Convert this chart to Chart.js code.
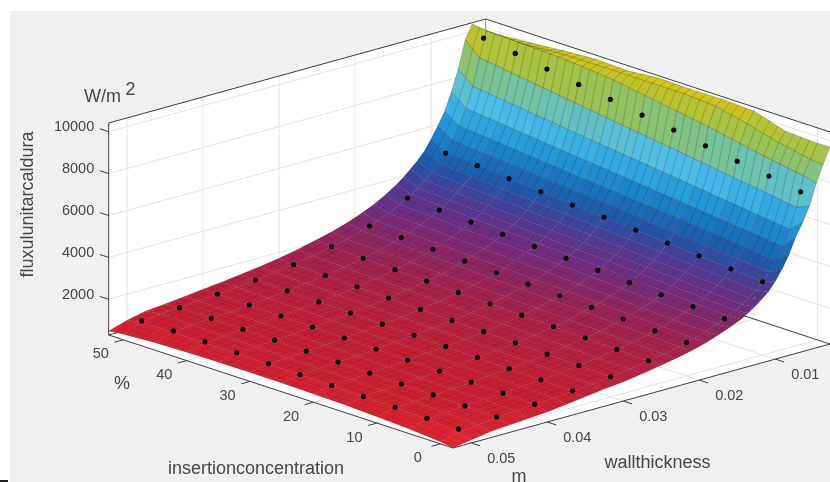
<!DOCTYPE html>
<html>
<head>
<meta charset="utf-8">
<title>fluxul unitar caldura</title>
<script src="https://cdn.jsdelivr.net/npm/chart.js@4"></script>
<style>
html,body{margin:0;padding:0;background:#fff;overflow:hidden}
#panel{position:absolute;left:10px;top:11px;width:820px;height:471px;background:#f0f0f0}
#dash{position:absolute;left:0;top:480px;width:8px;height:2px;background:#222}
#plot{position:absolute;left:0;top:0}
</style>
</head>
<body>
<div id="panel"></div>
<div id="dash"></div>
<canvas id="plot" width="830" height="482"></canvas>
<script>
// measured points (black dots): one row per wall thickness, one value per concentration
const wallThickness = [0.005,0.01,0.015,0.02,0.025,0.03,0.035,0.04,0.045,0.05];
const concentration = [0,5,10,15,20,25,30,35,40,45,50];
const measuredFlux = [
  [7581,7834,8053,8287,8540,8759,9012,9231,9465,9718,9951],
  [3790,3910,4030,4150,4270,4385,4471,4620,4740,4860,4967],
  [2527,2607,2687,2767,2847,2923,3000,3080,3160,3240,3321],
  [1895,1955,2015,2075,2135,2193,2250,2310,2370,2430,2486],
  [1516,1564,1612,1660,1708,1754,1800,1848,1896,1944,2000],
  [1263,1303,1343,1383,1423,1462,1500,1540,1580,1620,1640],
  [1083,1117,1151,1186,1220,1253,1286,1320,1354,1389,1408],
  [948,978,1008,1038,1068,1096,1125,1155,1185,1215,1241],
  [842,869,896,922,949,974,1000,1027,1053,1080,1089],
  [758,782,806,830,854,877,900,924,948,972,955]
];

// fitted surface at these mesh lines
const surfaceThickness = [0.0028,0.0037,0.0046,0.0055,0.0064,0.0073,0.0082,0.0091,0.01,0.0109,0.0118,0.0127,0.0136,0.0145,0.016,0.0175,0.019,0.021,0.023,0.025,0.0275,0.03,0.0325,0.035,0.0375,0.04,0.0425,0.045,0.0475,0.05,0.0524];
const surfaceConc = [-2,0,5,10,15,20,25,30,35,40,45,50,52.3];
const surfaceFlux = [
  [9694,9685,9760,10220,10295,10270,10305,10170,10220,10123,9980,9875,9885],
  [8950,9000,9300,9700,10050,10150,10150,10150,10150,10130,10000,9950,10000],
  [8150,8300,8550,8850,9150,9400,9650,9900,10050,10150,10200,10250,10350],
  [7150,6890,7109,7327,7545,7764,7973,8182,8400,8618,8836,9055,9700],
  [6450,5922,6109,6297,6484,6672,6852,7031,7219,7406,7594,7781,8400],
  [5850,5192,5356,5521,5685,5850,6007,6165,6329,6494,6658,6822,7400],
  [5100,4622,4768,4915,5061,5207,5348,5488,5634,5780,5927,6073,6550],
  [4500,4165,4297,4429,4560,4692,4819,4945,5077,5209,5341,5473,5950],
  [4000,3790,3910,4030,4150,4270,4385,4500,4620,4740,4860,4967,5400],
  [3600,3477,3587,3697,3807,3917,4023,4128,4238,4349,4459,4569,4900],
  [3320,3212,3314,3415,3517,3619,3716,3814,3915,4017,4119,4220,4550],
  [3070,2984,3079,3173,3268,3362,3453,3543,3638,3732,3827,3921,4250],
  [2850,2787,2875,2963,3051,3140,3224,3309,3397,3485,3574,3662,3950],
  [2650,2614,2697,2779,2862,2945,3024,3103,3186,3269,3352,3434,3700],
  [2400,2369,2444,2519,2594,2669,2741,2813,2888,2963,3038,3113,3350],
  [2200,2166,2234,2303,2371,2440,2506,2571,2640,2709,2777,2846,3050],
  [2000,1995,2058,2121,2184,2247,2308,2368,2432,2495,2558,2621,2800],
  [1800,1805,1862,1919,1976,2033,2088,2143,2200,2257,2314,2371,2520],
  [1640,1648,1700,1752,1804,1857,1907,1957,2009,2061,2113,2165,2290],
  [1500,1516,1564,1612,1660,1708,1754,1800,1848,1896,1944,1992,2110],
  [1350,1378,1422,1465,1509,1553,1595,1636,1680,1724,1767,1811,1900],
  [1210,1263,1303,1343,1383,1423,1462,1500,1540,1580,1620,1660,1720],
  [1120,1166,1203,1240,1277,1314,1349,1385,1422,1458,1495,1532,1570],
  [1000,1083,1117,1151,1186,1220,1253,1286,1320,1354,1389,1423,1450],
  [880,1011,1043,1075,1107,1139,1169,1200,1232,1264,1296,1328,1340],
  [780,948,978,1008,1038,1068,1096,1125,1155,1185,1215,1245,1240],
  [720,890,920,948,976,1005,1032,1059,1087,1115,1144,1172,1130],
  [650,810,860,895,922,949,974,1000,1027,1053,1080,1107,1040],
  [580,720,800,850,874,899,923,947,973,998,1023,1048,950],
  [440,620,740,800,825,850,870,880,890,900,910,900,760],
  [300,400,520,600,660,690,720,720,710,690,650,560,490]
];

// axis ticks
const thicknessTicks = [0.01,0.02,0.03,0.04,0.05];
const concTicks = [0,10,20,30,40,50];
const fluxTicks = [2000,4000,6000,8000,10000];

// colormap, flux -> rgb
const colorFlux = [300,1000,2000,3000,3800,4500,5300,6200,7200,8000,9000,10000,10400];
const colorRgb = [[232,38,42],[200,32,52],[155,36,84],[108,46,128],[72,62,152],[30,88,168],[25,118,192],[40,160,220],[80,190,235],[110,195,175],[150,195,90],[195,195,35],[220,200,20]];

// axes limits and the fixed view of the 3d box
const tMin=0.0028, tMax=0.0524, cMin=-2, cMax=52.3, zMin=297, zMax=10415;
const frontX=453, frontY=448;
const concRun=[-344.3,-113], thickRun=[377,-104], zRise=212;

function project(t,c,z){
  const u=(c-cMin)/(cMax-cMin), v=(tMax-t)/(tMax-tMin), w=(z-zMin)/(zMax-zMin);
  return {x:frontX+u*concRun[0]+v*thickRun[0], y:frontY+u*concRun[1]+v*thickRun[1]-w*zRise};
}

function fluxColor(z){
  let i=0;
  while(i<colorFlux.length-2 && z>colorFlux[i+1]) i++;
  const f=Math.min(1,Math.max(0,(z-colorFlux[i])/(colorFlux[i+1]-colorFlux[i])));
  const a=colorRgb[i], b=colorRgb[i+1];
  return `rgb(${Math.round(a[0]+(b[0]-a[0])*f)},${Math.round(a[1]+(b[1]-a[1])*f)},${Math.round(a[2]+(b[2]-a[2])*f)})`;
}

function lineSet(points,color,width){
  return {type:'line',data:points,borderColor:color,borderWidth:width,pointRadius:0,fill:false,tension:0};
}
function polySet(points,fillColor,edge,width){
  return {type:'line',data:points.concat([points[0]]),backgroundColor:fillColor,borderColor:edge,borderWidth:width,pointRadius:0,fill:'shape',tension:0};
}

// datasets are pushed back to front, reversed at the end (chart.js paints the last one first)
const sets=[];
const gridColor='#e2e2e2', boxColor='#3c3c3c';

// walls and floor
sets.push(polySet([project(tMax,cMax,zMin),project(tMin,cMax,zMin),project(tMin,cMax,zMax),project(tMax,cMax,zMax)],'#fff','#fff',0));
sets.push(polySet([project(tMin,cMax,zMin),project(tMin,cMin,zMin),project(tMin,cMin,zMax),project(tMin,cMax,zMax)],'#fff','#fff',0));
sets.push(polySet([project(tMax,cMin,zMin),project(tMin,cMin,zMin),project(tMin,cMax,zMin),project(tMax,cMax,zMin)],'#fff','#fff',0));

// gridlines
thicknessTicks.forEach(t=>{
  sets.push(lineSet([project(t,cMax,zMin),project(t,cMax,zMax)],gridColor,1));
  sets.push(lineSet([project(t,cMin,zMin),project(t,cMax,zMin)],gridColor,1));
});
concTicks.forEach(c=>{
  sets.push(lineSet([project(tMin,c,zMin),project(tMin,c,zMax)],gridColor,1));
  sets.push(lineSet([project(tMax,c,zMin),project(tMin,c,zMin)],gridColor,1));
});
fluxTicks.forEach(z=>{
  sets.push(lineSet([project(tMax,cMax,z),project(tMin,cMax,z),project(tMin,cMin,z)],gridColor,1));
});

// box edges and tick marks
sets.push(lineSet([project(tMin,cMax,zMin),project(tMin,cMax,zMax)],'#9a9a9a',1));
sets.push(lineSet([project(tMax,cMax,zMin),project(tMin,cMax,zMin),project(tMin,cMin,zMin)],boxColor,1));
sets.push(lineSet([project(tMax,cMin,zMin),project(tMax,cMax,zMin),project(tMax,cMax,zMax),project(tMin,cMax,zMax),project(tMin,cMin,zMax)],boxColor,1));
sets.push(lineSet([project(tMax,cMin,zMin),project(tMin,cMin,zMin)],boxColor,1));
fluxTicks.forEach(z=>sets.push(lineSet([project(tMax,cMax,z),project(tMax,cMax+1.4,z)],boxColor,1)));
concTicks.forEach(c=>sets.push(lineSet([project(tMax,c,zMin),project(tMax+0.00115,c,zMin)],boxColor,1)));
thicknessTicks.forEach(t=>sets.push(lineSet([project(t,cMin,zMin),project(t,cMin-1.4,zMin)],boxColor,1)));

// surface cells, far corner first
for(let r=0;r<surfaceThickness.length-1;r++){
  for(let k=surfaceConc.length-2;k>=0;k--){
    const t0=surfaceThickness[r], t1=surfaceThickness[r+1], c0=surfaceConc[k], c1=surfaceConc[k+1];
    const z00=surfaceFlux[r][k], z01=surfaceFlux[r][k+1], z10=surfaceFlux[r+1][k], z11=surfaceFlux[r+1][k+1];
    const mean=(z00+z01+z10+z11)/4;
    const corners=[project(t0,c0,z00),project(t0,c1,z01),project(t1,c1,z11),project(t1,c0,z10)];
    // mesh reads fainter where the cells get small
    const ink=mean>4500?'rgba(0,0,0,0.3)':'rgba(0,0,0,0.14)';
    sets.push(polySet(corners,fluxColor(mean),ink,0.6));
    // finer mesh lines of the cell, only as stroke texture
    const nc=Math.max(1,Math.round((c1-c0)/1.35)), nt=Math.max(1,Math.round((t1-t0)/0.0009));
    const hatch=[];
    const lerp=(p,q,f)=>({x:p.x+(q.x-p.x)*f,y:p.y+(q.y-p.y)*f});
    for(let i=1;i<nc;i++){
      hatch.push(lerp(corners[0],corners[1],i/nc),lerp(corners[3],corners[2],i/nc),{x:NaN,y:NaN});
    }
    for(let i=1;i<nt;i++){
      hatch.push(lerp(corners[0],corners[3],i/nt),lerp(corners[1],corners[2],i/nt),{x:NaN,y:NaN});
    }
    if(hatch.length) sets.push(Object.assign(lineSet(hatch,ink,0.6),{spanGaps:false}));
  }
}

// measured dots on top of everything
const dots=[];
wallThickness.forEach((t,r)=>concentration.forEach((c,k)=>dots.push(project(t,c,measuredFlux[r][k]))));
sets.push({type:'scatter',data:dots,pointRadius:2.6,pointBackgroundColor:'#0a0a0a',pointBorderWidth:0,showLine:false});

const tickFont='14.5px "Liberation Sans", Arial, sans-serif';
const nameFont='18px "Liberation Sans", Arial, sans-serif';
const textColor='#464646';

const labelsPlugin={
  id:'labels',
  afterDraw(chart){
    const ctx=chart.ctx, sx=chart.scales.x, sy=chart.scales.y;
    const put=(txt,x,y,font,align)=>{
      ctx.font=font; ctx.textAlign=align||'center'; ctx.textBaseline='middle';
      ctx.fillStyle=textColor; ctx.fillText(txt,sx.getPixelForValue(x),sy.getPixelForValue(y));
    };
    ctx.save();
    fluxTicks.forEach(z=>{ const p=project(tMax,cMax,z); put(String(z),p.x-14.5,p.y-4.5,tickFont,'right'); });
    concTicks.forEach(c=>{ const p=project(tMax,c,zMin); put(String(c),p.x-22.5,p.y+14.5,tickFont); });
    thicknessTicks.forEach(t=>{ const p=project(t,cMin,zMin); put(t.toFixed(2),p.x+30,p.y+16,tickFont); });
    put('W/m',102.5,97,nameFont);
    put('2',130.5,90,nameFont);
    put('%',122,384,nameFont);
    put('m',519,477,nameFont);
    put('insertionconcentration',256,469,nameFont);
    put('wallthickness',657.5,463,nameFont);
    ctx.translate(sx.getPixelForValue(28),sy.getPixelForValue(204.5));
    ctx.rotate(-Math.PI/2);
    ctx.font=nameFont; ctx.textAlign='center'; ctx.textBaseline='middle'; ctx.fillStyle=textColor;
    ctx.fillText('fluxulunitarcaldura',0,0);
    ctx.restore();
  }
};

new Chart(document.getElementById('plot'),{
  type:'scatter',
  data:{datasets:sets.reverse()},
  plugins:[labelsPlugin],
  options:{
    responsive:false,
    animation:false,
    events:[],
    layout:{padding:0,autoPadding:false},
    plugins:{legend:{display:false},tooltip:{enabled:false},title:{display:false}},
    scales:{
      x:{type:'linear',min:0,max:830,display:false},
      y:{type:'linear',min:0,max:482,reverse:true,display:false}
    }
  }
});
</script>
</body>
</html>
